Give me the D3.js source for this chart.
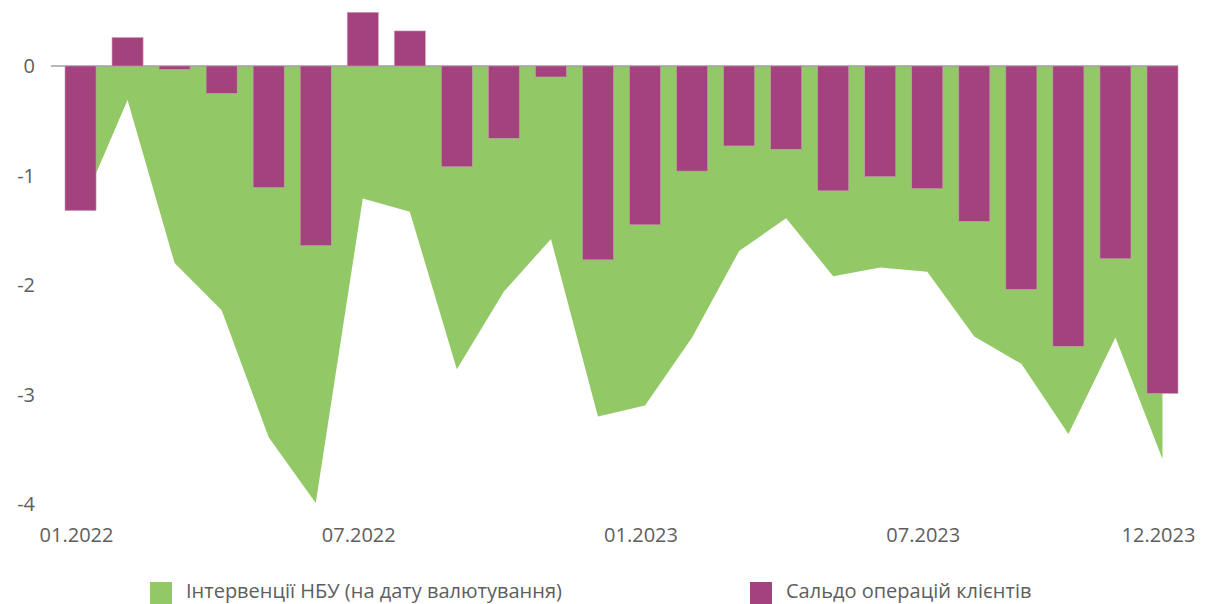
<!DOCTYPE html>
<html>
<head>
<meta charset="utf-8">
<script src="https://cdn.jsdelivr.net/npm/d3@7"></script>
<style>
  body { margin: 0; background: #fff; }
  text { font-family: "Open Sans", Lato, sans-serif; fill: #5e5e5e; }
</style>
</head>
<body>
<svg id="svg" width="1206" height="604"></svg>
<script>
const months = [
  '01.2022', '02.2022', '03.2022', '04.2022', '05.2022', '06.2022',
  '07.2022', '08.2022', '09.2022', '10.2022', '11.2022', '12.2022',
  '01.2023', '02.2023', '03.2023', '04.2023', '05.2023', '06.2023',
  '07.2023', '08.2023', '09.2023', '10.2023', '11.2023', '12.2023'
];

// інтервенції НБУ, млрд дол.
const interventions = [
  -1.31, -0.31, -1.80, -2.23, -3.39, -3.99,
  -1.21, -1.33, -2.77, -2.06, -1.58, -3.20,
  -3.10, -2.48, -1.69, -1.39, -1.92, -1.84,
  -1.88, -2.47, -2.72, -3.36, -2.48, -3.59
];

// сальдо операцій клієнтів
const clientBalance = [
  -1.32, 0.26, -0.03, -0.25, -1.11, -1.64,
  0.49, 0.32, -0.92, -0.66, -0.10, -1.77,
  -1.45, -0.96, -0.73, -0.76, -1.14, -1.01,
  -1.12, -1.42, -2.04, -2.56, -1.76, -2.99
];

const yTicks = [0, -1, -2, -3, -4];
const xTickLabels = ['01.2022', '07.2022', '01.2023', '07.2023', '12.2023'];

const legendItems = [
  { label: 'Інтервенції НБУ (на дату валютування)', color: '#92c865' },
  { label: 'Сальдо операцій клієнтів', color: '#a3427c' }
];

const svg = d3.select('#svg');

const x = d3.scaleBand()
  .domain(months)
  .range([57, 1186])
  .paddingInner(0.34)
  .paddingOuter(0.17);

const y = d3.scaleLinear()
  .domain([-4, 0])
  .range([504, 66]);

const cx = m => x(m) + x.bandwidth() / 2;

// area of interventions
const area = d3.area()
  .x((d, i) => cx(months[i]))
  .y0(y(0))
  .y1(d => y(d));

svg.append('path')
  .datum(interventions)
  .attr('d', area)
  .attr('fill', '#92c865');

// zero line
svg.append('line')
  .attr('x1', 51)
  .attr('x2', 1178)
  .attr('y1', y(0))
  .attr('y2', y(0))
  .attr('stroke', '#a0a0a0')
  .attr('stroke-width', 1.5);

// bars
svg.selectAll('rect.bar')
  .data(clientBalance)
  .enter()
  .append('rect')
  .attr('class', 'bar')
  .attr('x', (d, i) => x(months[i]))
  .attr('width', x.bandwidth())
  .attr('y', d => y(Math.max(0, d)))
  .attr('height', d => Math.abs(y(d) - y(0)))
  .attr('fill', '#a3427c')
  .attr('stroke', '#c99ab6')
  .attr('stroke-width', 0.6);

// y axis labels
svg.selectAll('text.ytick')
  .data(yTicks)
  .enter()
  .append('text')
  .attr('class', 'ytick')
  .attr('x', 35)
  .attr('y', d => y(d))
  .attr('dy', '0.35em')
  .attr('text-anchor', 'end')
  .style('font-size', '20px')
  .text(d => d);

// x axis labels
svg.selectAll('text.xtick')
  .data(xTickLabels)
  .enter()
  .append('text')
  .attr('class', 'xtick')
  .attr('x', d => cx(d) - 4)
  .attr('y', 535)
  .attr('dy', '0.35em')
  .attr('text-anchor', 'middle')
  .style('font-size', '20px')
  .text(d => d);

// legend
const legend = svg.selectAll('g.legend')
  .data(legendItems)
  .enter()
  .append('g')
  .attr('class', 'legend')
  .attr('transform', (d, i) => `translate(${150 + i * 600},582)`);

legend.append('rect')
  .attr('width', 22)
  .attr('height', 22)
  .attr('fill', d => d.color);

legend.append('text')
  .attr('x', 36)
  .attr('y', 9)
  .attr('dy', '0.35em')
  .style('font-size', '20px')
  .text(d => d.label);
</script>
</body>
</html>
